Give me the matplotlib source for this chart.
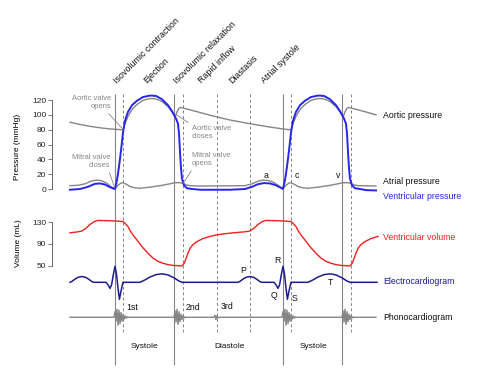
import matplotlib
matplotlib.use("Agg")
import matplotlib.pyplot as plt

plt.rcParams['font.family'] = ['Liberation Sans', 'DejaVu Sans']

# time in ms (one beat = 840 ms, R wave at t = 0)
# ventricular pressure (mmHg)
lv_t = [-225, -175, -135, -100, -75, -50, -25, -10, 0, 10, 20, 30, 40, 50, 65, 85, 110, 140,
        175, 205, 235, 265, 285, 295, 305, 315, 320, 325, 330, 335, 345, 360, 385, 425, 575,
        650, 685, 715, 745, 775, 805, 830, 840,
        850, 860, 870, 880, 890, 905, 925, 950, 980, 1015, 1045, 1075, 1105, 1125, 1135,
        1145, 1155, 1160, 1165, 1170, 1175, 1185, 1200, 1225, 1255, 1305]
lv_p = [-1, 0, 3, 7, 7.5, 6, 2.5, 0.8, 0, 12, 30, 52, 76, 92, 104, 113, 119, 124,
        126, 125.5, 121, 113, 105, 100, 95, 88, 75, 50, 28, 14, 5, 1, 0, -1, -1,
        0, 3, 6.5, 8, 7.5, 5, 1.5, 0,
        12, 30, 52, 76, 92, 104, 113, 119, 124, 126, 125.5, 121, 113, 105, 100,
        95, 88, 75, 50, 28, 14, 5, 1, 0, -1.5, -2]

# aortic pressure (mmHg)
ao_t = [-225, -175, -125, -75, -25, 0, 30, 40, 50, 65, 85, 110, 140, 175, 205, 235, 265, 285,
        295, 302, 310, 320, 330, 350, 400, 475, 575, 675, 775, 840, 870, 880,
        890, 905, 925, 950, 980, 1015, 1045, 1075, 1105, 1125, 1135, 1142, 1150, 1160,
        1170, 1190, 1240, 1305]
ao_p = [90, 87, 84.5, 82.5, 81, 80.5, 80, 80, 88, 98, 107, 114, 119.5, 122, 121.5, 118, 111, 104,
        100, 98, 104, 109, 110, 108.5, 105, 99.5, 93, 88, 83.5, 81, 80, 80,
        88, 98, 107, 114, 119.5, 122, 121.5, 118, 111, 104, 100, 98, 104, 109,
        110, 108.5, 105, 100]

# atrial pressure (mmHg)
la_t = [-225, -185, -150, -115, -90, -65, -40, -20, 0, 15, 30, 40, 55, 75, 100, 125, 175, 225,
        275, 300, 325, 340, 355, 375, 425, 650, 685, 715, 740, 765, 790, 810, 830, 840,
        855, 870, 880, 895, 915, 940, 965, 1015, 1065, 1115, 1140, 1165, 1180, 1195, 1215, 1305]
la_p = [4.5, 5, 7, 11, 12, 11, 7.5, 3, 0.5, 5, 8, 8.5, 6.5, 3.5, 1.5, 1, 2.5, 4.5,
        7, 8.5, 8.5, 7.5, 5.5, 4.5, 4, 4.5, 7, 10.5, 12, 11.5, 9.5, 6, 2, 0.5,
        5, 8, 8.5, 6.5, 3.5, 1.5, 1, 2.5, 4.5, 7, 8.5, 8.5, 7.5, 5.5, 4.5, 4]

# ventricular volume (mL)
vol_t = [-225, -185, -165, -145, -125, -105, -85, -35, 0, 40, 50, 65, 80, 95, 115, 140, 165,
         190, 215, 240, 265, 290, 335, 345, 355, 365, 375, 390, 410, 440, 475, 510, 575, 650,
         675, 695, 715, 735, 755, 805, 840,
         880, 890, 905, 920, 935, 955, 980, 1005, 1030, 1055, 1080, 1105, 1130, 1175, 1185,
         1195, 1205, 1215, 1230, 1250, 1280, 1315]
vol_v = [110.5, 112.5, 114, 119, 126, 131, 133.5, 133, 132.5, 131.5, 128, 122, 112, 104, 95, 83, 73,
         64, 58, 54.5, 52, 50.5, 49.5, 54, 63, 73, 82, 89, 94.5, 100, 104, 107, 110, 112.5,
         114, 119, 126, 131, 133.5, 133, 132.5,
         131.5, 128, 122, 112, 104, 95, 83, 73, 64, 58, 54.5, 52, 50.5, 49.5, 54,
         63, 73, 82, 89, 94.5, 100, 104]

# electrocardiogram (mV)
ecg_t = [-225, -215, -200, -185, -165, -145, -130, -115, -105, -45, -35, -25, -17, -8, 0, 7, 15,
         22, 30, 40, 125, 150, 175, 205, 235, 265, 295, 320, 335,
         615, 625, 640, 655, 675, 695, 710, 725, 735, 795, 805, 815, 823, 832, 840, 847, 855,
         862, 870, 880, 965, 990, 1015, 1045, 1075, 1105, 1135, 1160, 1175, 1310]
ecg_v = [0, 0.06, 0.2, 0.31, 0.36, 0.3, 0.18, 0.04, 0, 0, -0.15, -0.38, -0.15, 0.5, 1.0, 0.55, -0.35,
         -1.06, -0.55, 0, 0, 0.15, 0.33, 0.48, 0.53, 0.46, 0.28, 0.08, 0,
         0, 0.06, 0.2, 0.31, 0.36, 0.3, 0.18, 0.04, 0, 0, -0.15, -0.38, -0.15, 0.5, 1.0, 0.55, -0.35,
         -1.06, -0.55, 0, 0, 0.15, 0.33, 0.48, 0.53, 0.46, 0.28, 0.08, 0, 0]

# phonocardiogram: heart sound bursts, samples every 5 ms
s1_shape = [0, 0.7, -0.5, 1.0, -1.0, 0.9, -0.8, 0.6, -0.5, 0.35, -0.25, 0.18, -0.12, 0.08, -0.04, 0.02, 0]
s2_shape = [0, 0.8, -0.6, 1.0, -0.9, 0.7, -0.55, 0.4, -0.3, 0.2, -0.12, 0.06, -0.03, 0]
s3_shape = [0, 0.25, -0.3, 0.2, -0.1, 0]
sound_onsets = [-5, 295, 495, 835, 1135]
sound_shapes = [s1_shape, s2_shape, s3_shape, s1_shape, s2_shape]
pcg_start, pcg_end = -225, 1305

solid_lines = [0, 295, 840, 1135]
dashed_lines = [40, 340, 510, 675, 880, 1180]

phases = ['Isovolumic contraction', 'Ejection', 'Isovolumic relaxation', 'Rapid inflow',
          'Diastasis', 'Atrial systole']
phase_t = [10, 160, 310, 435, 585, 750]

GRAY = '#858585'
BLUE = '#2626ee'
RED = '#ee2020'
NAVY = '#1c1c8c'

W, H = 490, 375
fig = plt.figure(figsize=(4.9, 3.75), dpi=100)

XL = (-315, 1325)  # x = 52 px .. 380 px


def band(top, bottom):
    a = fig.add_axes([52 / W, 1 - bottom / H, (380 - 52) / W, (bottom - top) / H])
    a.set_xlim(*XL)
    a.patch.set_alpha(0)
    a.set_zorder(2)
    return a


# overlay in pixel rows for guides and labels
ax_o = fig.add_axes([0, 0, 1, 1])
ax_o.set_xlim(-575, 1875)
ax_o.set_ylim(375, 0)
ax_o.axis('off')
ax_o.set_zorder(1)
ax_o.vlines(solid_lines, 94, 365, color=GRAY, lw=0.8)
ax_o.vlines(dashed_lines, 94, 332, color=GRAY, lw=0.7, linestyles=(0, (3, 2.5)))

ax_p = band(94, 192)
ax_p.set_ylim(-4.04, 128.1)
ax_v = band(216, 272)
ax_v.set_ylim(38.4, 141.6)
ax_e = band(262, 304)
ax_e.set_ylim(-1.356, 1.269)
ax_s = band(304, 332)
ax_s.set_ylim(-1.84, 1.66)

for a, ticks in ((ax_p, [0, 20, 40, 60, 80, 100, 120]), (ax_v, [50, 90, 130])):
    for s in ('top', 'right', 'bottom'):
        a.spines[s].set_visible(False)
    a.spines['left'].set_bounds(ticks[0], ticks[-1])
    a.spines['left'].set_color('#666666')
    a.spines['left'].set_linewidth(0.7)
    a.set_xticks([])
    a.set_yticks(ticks)
    a.tick_params(axis='y', length=3, width=0.6, color='#666666', pad=1.2,
                  labelsize=6, labelcolor='#222222')
for a in (ax_e, ax_s):
    a.axis('off')

ax_p.plot(ao_t, ao_p, color=GRAY, lw=1.0)
ax_p.plot(la_t, la_p, color=GRAY, lw=1.0)
ax_p.plot(lv_t, lv_p, color=BLUE, lw=1.4)
ax_v.plot(vol_t, vol_v, color=RED, lw=1.0)
ax_e.plot(ecg_t, ecg_v, color=NAVY, lw=1.1)

pcg_t, pcg_v = [pcg_start], [0]
for t0, shape in zip(sound_onsets, sound_shapes):
    pcg_t += [t0 + 5 * i for i in range(len(shape))]
    pcg_v += shape
pcg_t.append(pcg_end)
pcg_v.append(0)
ax_s.plot(pcg_t, pcg_v, color=GRAY, lw=1.0)

# valve annotations
ann = dict(fontsize=5.4, color=GRAY, va='center', linespacing=1.15)
ax_p.annotate('Aortic valve\nopens', xy=(42, 80), xytext=(-20, 116.6), ha='right',
              arrowprops=dict(arrowstyle='-', color=GRAY, lw=0.6, relpos=(0.85, 0),
                              shrinkA=1, shrinkB=0), **ann)
ax_p.annotate('Mitral valve\ncloses', xy=(-3, 3), xytext=(-25, 37.1), ha='right',
              arrowprops=dict(arrowstyle='-', color=GRAY, lw=0.6, relpos=(0.95, 0),
                              shrinkA=1, shrinkB=0), **ann)
ax_p.annotate('Aortic valve\ncloses', xy=(308, 100), xytext=(385, 76.2), ha='left',
              arrowprops=dict(arrowstyle='-', color=GRAY, lw=0.6, relpos=(0, 1),
                              shrinkA=1, shrinkB=0), **ann)
ax_p.annotate('Mitral valve\nopens', xy=(340, 7.5), xytext=(385, 39.8), ha='left',
              arrowprops=dict(arrowstyle='-', color=GRAY, lw=0.6, relpos=(0.05, 0),
                              shrinkA=1, shrinkB=0), **ann)

# phase names
for name, t in zip(phases, phase_t):
    ax_o.text(t, 84, name, rotation=45, rotation_mode='anchor', ha='left', va='baseline',
              fontsize=6.4, color='#111111')

# axis titles
ax_o.text(-485, 147, 'Pressure (mmHg)', rotation=90, ha='center', va='center', fontsize=6)
ax_o.text(-485, 243, 'Volume (mL)', rotation=90, ha='center', va='center', fontsize=6)

# trace names on the right
right = [('Aortic pressure', 116, '#111111'), ('Atrial pressure', 181, '#111111'),
         ('Ventricular pressure', 196.5, BLUE), ('Ventricular volume', 238, RED),
         ('Electrocardiogram', 282, NAVY), ('Phonocardiogram', 317, '#111111')]
for name, row, c in right:
    ax_o.text(1340, row, name, ha='left', va='center', fontsize=6.3, color=c)

# small wave labels
marks = [('a', 755, 175), ('c', 908, 175), ('v', 1115, 175),
         ('P', 641, 270.7), ('R', 811, 260.7), ('Q', 795, 295), ('S', 900, 298.3),
         ('T', 1075, 282.7), ('1st', 88, 307.3), ('2nd', 392, 307), ('3rd', 558, 306.7)]
for lab, t, row in marks:
    ax_o.text(t, row, lab, ha='center', va='center', fontsize=6.3, color='#111111')

for lab, t in (('Systole', 145), ('Diastole', 575), ('Systole', 992)):
    ax_o.text(t, 346.7, lab, ha='center', va='center', fontsize=6, color='#111111')

fig.savefig('out.png', dpi=100)
